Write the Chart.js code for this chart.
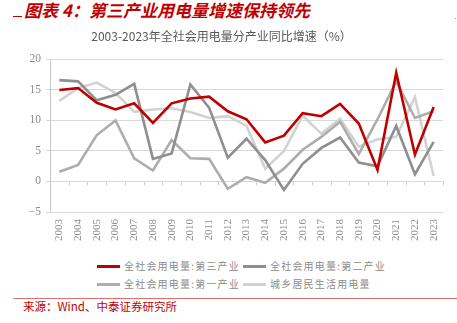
<!DOCTYPE html>
<html>
<head>
<meta charset="utf-8">
<script src="https://cdn.jsdelivr.net/npm/chart.js"></script>
<style>
  html,body{margin:0;padding:0;background:#fff;}
  body{width:457px;height:323px;position:relative;overflow:hidden;font-family:"Noto Sans CJK SC",sans-serif;}
  .head{position:absolute;left:24px;top:-3px;font-size:17px;font-weight:bold;font-style:italic;color:#c00000;white-space:nowrap;}
  .mark{position:absolute;left:13px;top:16px;width:9px;height:1px;background:#c00000;}
  .dot{position:absolute;left:455px;top:18px;width:1px;height:1px;background:#e07aa0;}
  #wrap{position:absolute;left:0;top:24px;width:457px;height:230px;}
  .legend{position:absolute;left:97px;top:258px;font-size:10px;letter-spacing:1.2px;color:#8c8c8c;}
  .legend .row{height:18px;white-space:nowrap;}
  .legend .item{display:inline-block;position:relative;padding-left:27px;width:119px;line-height:16px;}
  .legend .item i{position:absolute;left:0;top:7px;width:23px;height:3px;}
  .rule{position:absolute;left:13px;top:298px;width:444px;height:1px;background:#e07070;}
  .src{position:absolute;left:23px;top:298px;font-size:11.5px;color:#c00000;white-space:nowrap;}
</style>
</head>
<body>
<div class="head">图表 4：第三产业用电量增速保持领先</div>
<div class="mark"></div>
<div class="dot"></div>
<div id="wrap"><canvas id="c"></canvas></div>
<div class="legend" id="legend"></div>
<div class="rule"></div>
<div class="src">来源：Wind、中泰证券研究所</div>
<script>
// ---- data ----
const YEARS = ['2003','2004','2005','2006','2007','2008','2009','2010','2011','2012','2013','2014','2015','2016','2017','2018','2019','2020','2021','2022','2023'];
const TERTIARY  = [15.0,15.3,12.9,11.8,12.8,9.6,12.8,13.6,13.9,11.5,10.2,6.4,7.5,11.2,10.7,12.7,9.5,1.9,17.8,4.4,12.2];
const SECONDARY = [16.6,16.4,13.3,14.2,16.0,3.7,4.6,15.9,12.1,3.9,7.0,3.5,-1.4,2.9,5.5,7.2,3.1,2.5,9.1,1.2,6.5];
const PRIMARY   = [1.6,2.7,7.6,10.0,3.8,1.8,6.8,3.8,3.7,-1.2,0.7,-0.2,2.1,5.2,7.3,9.8,4.5,10.2,16.4,10.4,11.5];
const RESIDENT  = [13.2,15.3,16.2,14.5,11.4,11.8,12.0,11.4,10.4,10.7,9.1,2.1,5.0,10.8,7.8,10.3,5.7,6.9,7.3,13.8,0.9];
const Y_MIN = -5, Y_MAX = 20, Y_STEP = 5;

const SERIES = [
  {name:'全社会用电量:第三产业', data:TERTIARY,  color:'#c00000', w:2.6},
  {name:'全社会用电量:第二产业', data:SECONDARY, color:'#8f8f8f', w:2.6},
  {name:'全社会用电量:第一产业', data:PRIMARY,   color:'#adadad', w:2.6},
  {name:'城乡居民生活用电量',     data:RESIDENT,  color:'#d2d2d2', w:2.6}
];

// small tick marks hanging off the zero line, at category boundaries
const zeroTicks = {
  id:'zeroTicks',
  beforeDatasetsDraw(chart){
    const x = chart.scales.x, y = chart.scales.y;
    const y0 = Math.round(y.getPixelForValue(0)) + 0.5;
    const step = x.getPixelForValue(1) - x.getPixelForValue(0);
    const ctx = chart.ctx;
    ctx.save();
    ctx.strokeStyle = '#d0d0d0'; ctx.lineWidth = 1;
    ctx.beginPath();
    for(let i=0;i<YEARS.length;i++){
      const px = Math.round(x.getPixelForValue(i) + step/2) + 0.5;
      ctx.moveTo(px, y0); ctx.lineTo(px, y0 + 4);
    }
    ctx.stroke();
    ctx.restore();
  }
};

new Chart(document.getElementById('c'), {
  type:'line',
  data:{
    labels: YEARS,
    datasets: SERIES.map(s=>({label:s.name, data:s.data, borderColor:s.color, backgroundColor:s.color,
      borderWidth:s.w, pointRadius:0, tension:0, fill:false}))
  },
  options:{
    responsive:true, maintainAspectRatio:false, animation:false,
    layout:{padding:{left:0, right:14, top:0, bottom:6}},
    plugins:{
      legend:{display:false},
      tooltip:{enabled:false},
      title:{display:true, text:'2003-2023年全社会用电量分产业同比增速（%）', color:'#595959',
        font:{family:'"Noto Sans CJK SC"', size:12, weight:'normal'}, padding:{top:5, bottom:16}}
    },
    scales:{
      x:{
        offset:true,
        grid:{display:false, drawTicks:false},
        border:{display:false},
        ticks:{autoSkip:false, minRotation:90, maxRotation:90, padding:7, color:'#8c8c8c',
          font:{family:'"Liberation Serif"', size:11}}
      },
      y:{
        min:Y_MIN, max:Y_MAX,
        afterFit(s){ s.width = 50; },
        grid:{color:'#d9d9d9', lineWidth:1, drawTicks:true, tickLength:4},
        border:{display:true, color:'#c8c8c8', width:1},
        ticks:{stepSize:Y_STEP, padding:5, color:'#8c8c8c',
          font:{family:'"Liberation Serif"', size:11.5},
          callback:v=> String(v).replace('-', '\u2212')}
      }
    }
  },
  plugins:[zeroTicks]
});

// legend, two items per row
const lg = document.getElementById('legend');
for(let r=0;r<2;r++){
  const row = document.createElement('div'); row.className='row';
  for(let c=0;c<2;c++){
    const s = SERIES[r*2+c];
    const it = document.createElement('span'); it.className='item';
    it.innerHTML = `<i style="background:${s.color}"></i>${s.name}`;
    row.appendChild(it);
  }
  lg.appendChild(row);
}
</script>
</body>
</html>
